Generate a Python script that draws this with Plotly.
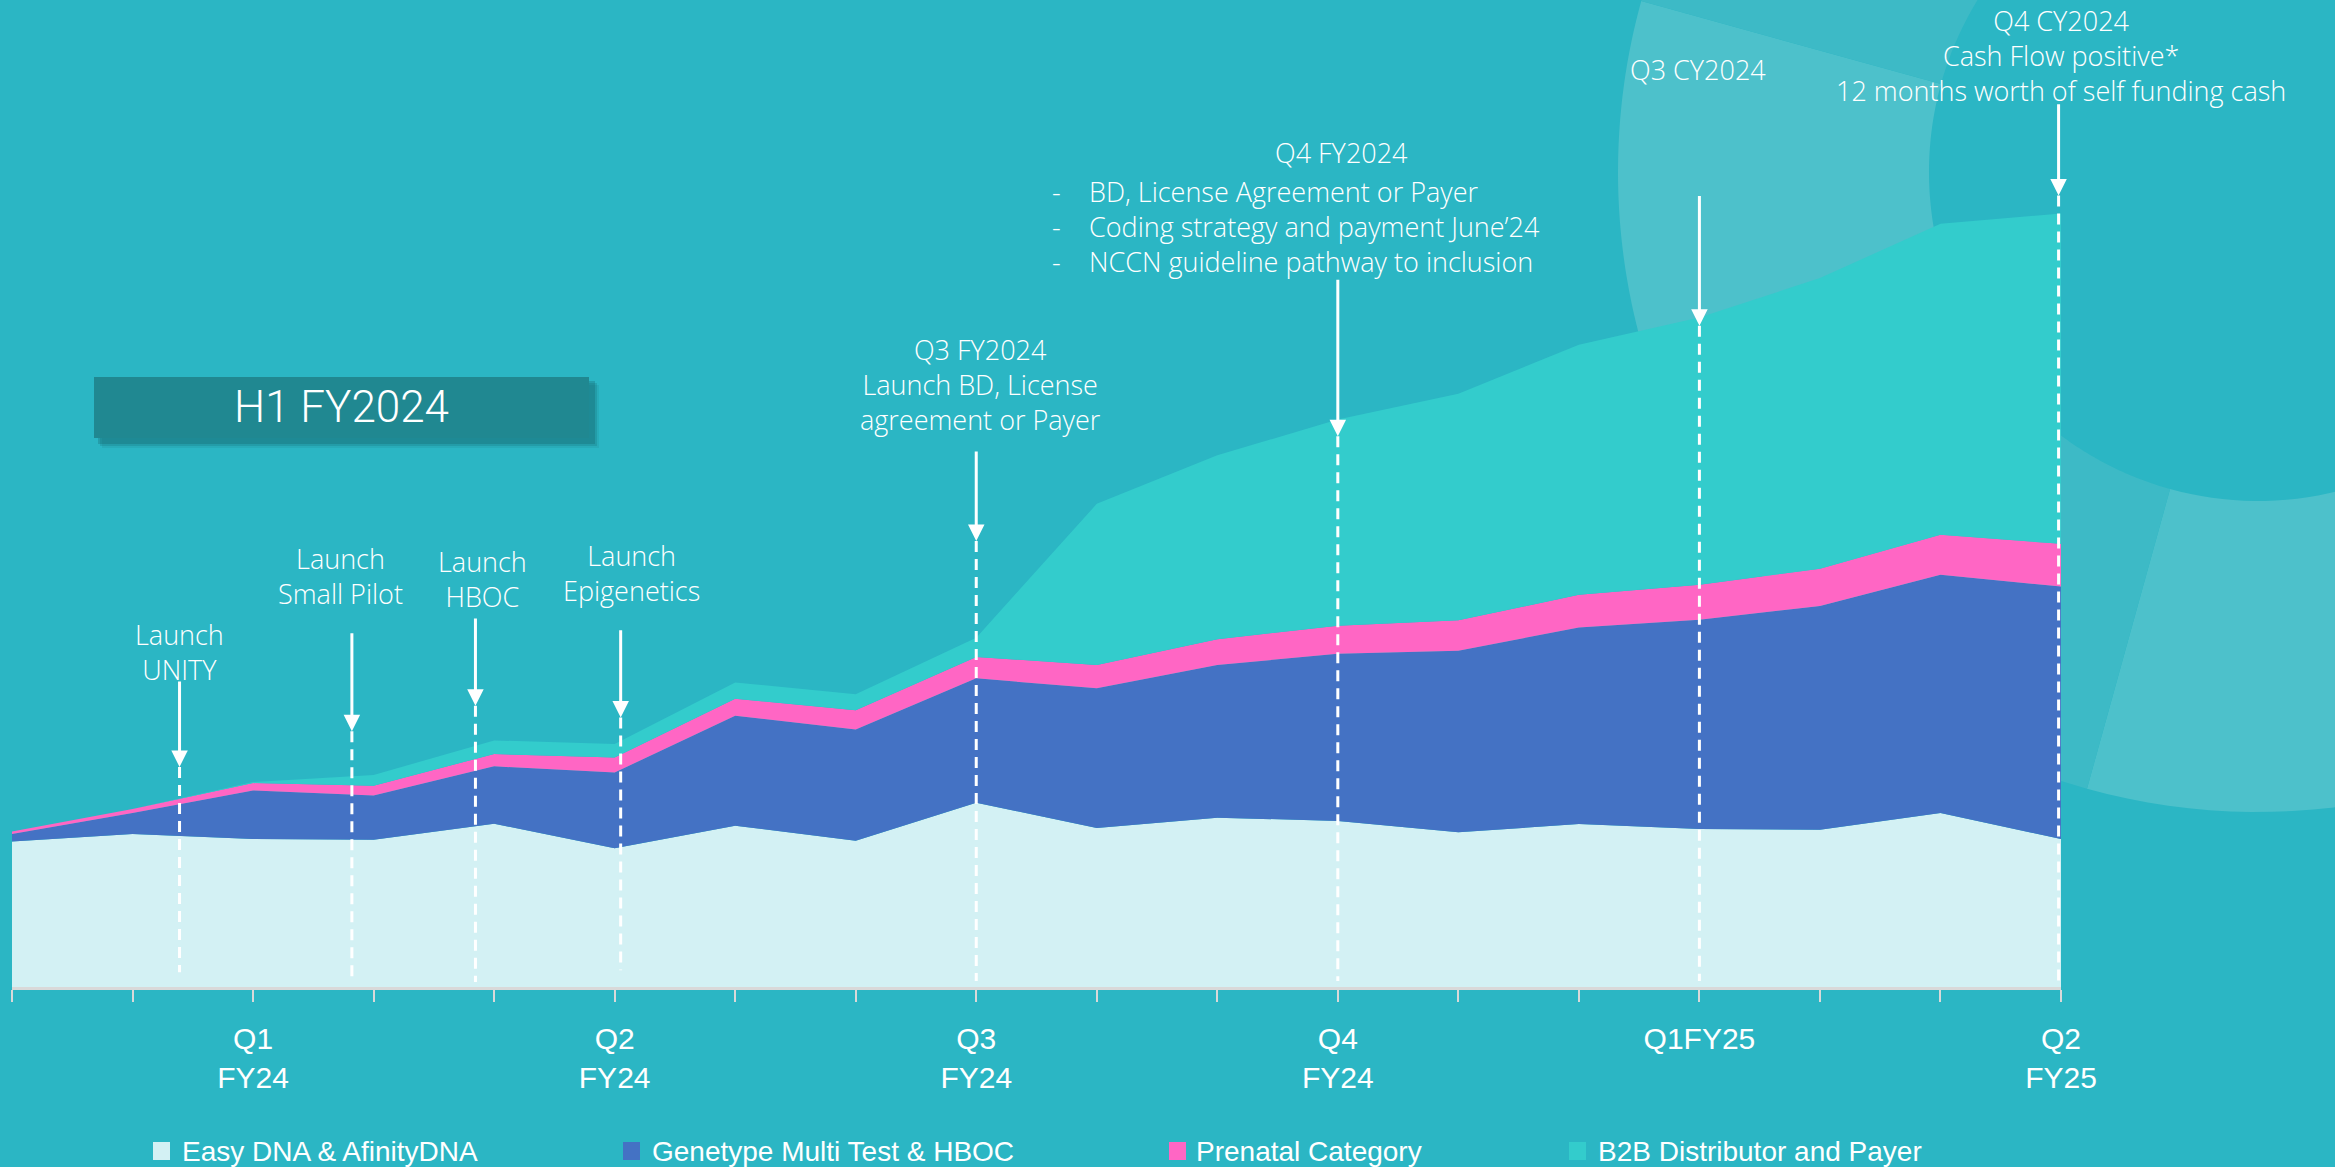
import numpy as np
import plotly.graph_objects as go

W, H = 2335, 1167

# ---------------- data ----------------
months = list(range(1, 19))
easy_dna = [14.75, 15.49, 14.99, 14.93, 16.55, 14.07, 16.33, 14.83, 18.66,
            16.12, 17.16, 16.82, 15.67, 16.52, 16.00, 15.93, 17.62, 14.99]
genetype = [0.74, 2.13, 4.92, 4.48, 5.81, 7.66, 11.15, 11.25, 12.61,
            14.15, 15.46, 16.94, 18.40, 19.91, 21.21, 22.68, 24.15, 25.58]
prenatal = [0.27, 0.41, 0.75, 0.98, 1.25, 1.52, 1.72, 1.95, 2.17,
            2.35, 2.62, 2.85, 3.08, 3.30, 3.54, 3.76, 4.04, 4.33]
b2b = [0.0, 0.0, 0.1, 1.09, 1.37, 1.36, 1.66, 1.63, 1.95,
       16.33, 18.63, 20.89, 22.96, 25.34, 27.07, 29.46, 31.52, 33.47]
series_names = ["Easy DNA & AfinityDNA", "Genetype Multi Test & HBOC",
                "Prenatal Category", "B2B Distributor and Payer"]
tick_months = [3, 6, 9, 12, 15, 18]
tick_labels = ["Q1<br>FY24", "Q2<br>FY24", "Q3<br>FY24", "Q4<br>FY24", "Q1FY25", "Q2<br>FY25"]
milestone_months = [2.39, 3.82, 4.845, 6.05, 9.0, 12.0, 15.0, 17.98]
milestone_labels = ["Launch<br>UNITY", "Launch<br>Small Pilot", "Launch<br>HBOC",
                    "Launch<br>Epigenetics",
                    "Q3 FY2024<br>Launch BD, License<br>agreement or Payer",
                    "Q4 FY2024", "Q3 CY2024",
                    "Q4 CY2024<br>Cash Flow positive*<br>12 months worth of self funding cash"]
q4_bullets = ["BD, License Agreement or Payer",
              "Coding strategy and payment June\u201924",
              "NCCN guideline pathway to inclusion"]

# ---------------- styles / layout geometry ----------------
BG = "#2BB6C4"
COLORS = ["#D3F1F4", "#4472C4", "#FF66C4", "#33CCCC"]
LABEL_FONT = dict(family="Open Sans", size=27, color="white", weight=300)


def fx(px):
    return px / W


def fy(py):
    return 1 - py / H


# arrow geometry per milestone: (shaft top, arrow tip, dash end) in y units
arrow_geom = [(31.1, 22.3, 1.5), (36.0, 25.9, 0.5), (37.5, 28.5, 0.5), (36.3, 27.3, 1.7),
              (54.4, 45.2, 0.6), (71.8, 55.8, 0.6), (80.3, 67.0, 0.6), (89.6, 80.2, 0.5)]
# label block centre in pixel coordinates
label_pos = [(179, 652), (340, 576), (482, 579), (631, 573),
             (980, 385), (1341, 152), (1698, 69), (2061, 55)]

fig = go.Figure()
for name, vals, col in zip(series_names, [easy_dna, genetype, prenatal, b2b], COLORS):
    fig.add_trace(go.Scatter(x=months, y=vals, name=name, stackgroup="one",
                             mode="lines", line=dict(width=0, color=col),
                             fillcolor=col, hoverinfo="skip"))

shapes = []


# decorative background ring
def ring_sector(cx, cy, r0, r1, a0, a1, n=90):
    t = np.radians(np.linspace(a0, a1, n))
    xs = np.concatenate([cx + r1 * np.cos(t), cx + r0 * np.cos(t[::-1])])
    ys = np.concatenate([cy + r1 * np.sin(t), cy + r0 * np.sin(t[::-1])])
    pts = [f"{fx(x):.5f},{fy(y):.5f}" for x, y in zip(xs, ys)]
    return "M" + " L".join(pts) + " Z"


ring_light = "#4DC1CB"
ring_mid = "#3DBAC6"
for a0, a1, c in [(-60, 105.5, ring_light), (105.5, 140, ring_mid),
                  (140, 195.5, ring_light), (195.5, 300, ring_mid)]:
    shapes.append(dict(type="path", path=ring_sector(2258, 172, 329, 640, a0, a1),
                       xref="paper", yref="paper", fillcolor=c,
                       line=dict(width=0), layer="below"))

# H1 FY2024 box with soft shadow
for off, alpha in [(10, 0.10), (8, 0.18), (6, 0.25)]:
    shapes.append(dict(type="rect", xref="paper", yref="paper",
                       x0=fx(94 + off - 2), x1=fx(589 + off), y0=fy(438 + off), y1=fy(377 + off - 2),
                       fillcolor=f"rgba(15,85,92,{alpha})", line=dict(width=0), layer="below"))
shapes.append(dict(type="rect", xref="paper", yref="paper",
                   x0=fx(94), x1=fx(589), y0=fy(438), y1=fy(377),
                   fillcolor="#208891", line=dict(width=0), layer="below"))

annotations = []
annotations.append(dict(text="H1 FY2024", xref="paper", yref="paper", x=fx(341), y=fy(407),
                        showarrow=False, xanchor="center", yanchor="middle",
                        font=dict(family="Roboto", size=44, color="white", weight=300)))

# milestones: arrows + dashed drop lines + labels
for m, (top, tip, end), lab, (lx, ly) in zip(milestone_months, arrow_geom,
                                             milestone_labels, label_pos):
    annotations.append(dict(x=m, y=tip, ax=m, ay=top, xref="x", yref="y",
                            axref="x", ayref="y", text="", showarrow=True,
                            arrowhead=2, arrowsize=1.1, arrowwidth=3,
                            arrowcolor="white", standoff=0))
    shapes.append(dict(type="line", xref="x", yref="y", x0=m, x1=m, y0=tip, y1=end,
                       line=dict(color="white", width=3, dash="11px,7px")))
    annotations.append(dict(text=lab, xref="paper", yref="paper", x=fx(lx), y=fy(ly),
                            showarrow=False, xanchor="center", yanchor="middle",
                            align="center", font=LABEL_FONT))

# Q4 FY2024 bullet list
annotations.append(dict(text="<br>".join(["-"] * len(q4_bullets)), xref="paper", yref="paper",
                        x=fx(1056), y=fy(226), showarrow=False, xanchor="center",
                        yanchor="middle", align="center", font=LABEL_FONT))
annotations.append(dict(text="<br>".join(q4_bullets), xref="paper", yref="paper",
                        x=fx(1087), y=fy(226), showarrow=False, xanchor="left",
                        yanchor="middle", align="left", font=LABEL_FONT))

# manual legend
legend_x = [(153, 180), (623, 650), (1169, 1194), (1569, 1596)]
for (sx, tx), name, col in zip(legend_x, series_names, COLORS):
    shapes.append(dict(type="rect", xref="paper", yref="paper", x0=fx(sx), x1=fx(sx + 17),
                       y0=fy(1160), y1=fy(1142), fillcolor=col, line=dict(width=0)))
    annotations.append(dict(text=name, xref="paper", yref="paper", x=fx(tx), y=fy(1151),
                            showarrow=False, xanchor="left", yanchor="middle",
                            font=dict(family="Liberation Sans", size=28, color="white")))

ticktext = [tick_labels[tick_months.index(m)] if m in tick_months else "" for m in months]

fig.update_layout(
    width=W, height=H, autosize=False,
    margin=dict(l=0, r=0, t=0, b=0),
    paper_bgcolor=BG, plot_bgcolor="rgba(0,0,0,0)",
    showlegend=False,
    shapes=shapes, annotations=annotations,
    xaxis=dict(domain=[fx(12), fx(2061)], range=[1, 18], showgrid=False, zeroline=False,
               showline=True, linecolor="#D9D9D9", linewidth=2.5,
               ticks="outside", ticklen=12, tickwidth=1.5, tickcolor="#D9D9D9",
               tickvals=months, ticktext=ticktext, ticklabelstandoff=11,
               tickfont=dict(family="Liberation Sans", size=30, color="white"),
               automargin=False, fixedrange=True),
    yaxis=dict(domain=[1 - 987 / H, 1], range=[0, 100], visible=False,
               showgrid=False, zeroline=False, automargin=False, fixedrange=True),
)

fig.write_html(
    "out.html",
    config={"displayModeBar": False},
    post_script=("document.body.style.margin='0';document.body.style.padding='0';"
                 "document.body.style.overflow='hidden';"
                 f"document.body.style.background='{BG}';"),
)
